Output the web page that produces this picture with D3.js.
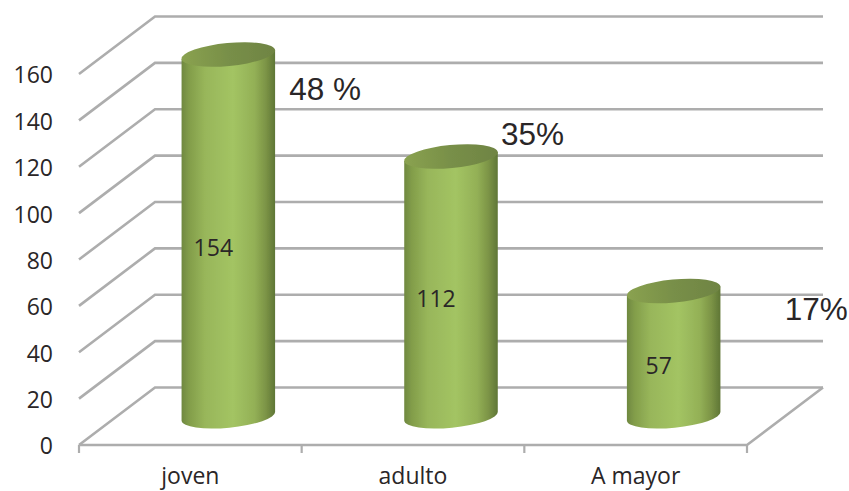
<!DOCTYPE html>
<html><head><meta charset="utf-8">
<script src="https://cdn.jsdelivr.net/npm/d3@7/dist/d3.min.js"></script>
<style>html,body{margin:0;padding:0;background:#fff}svg{display:block}</style>
</head><body><svg id="c" width="849" height="491"></svg>
<script>
const categories = ["joven","adulto","A mayor"];
const dataLabels = [154,112,57];
const barHeights = [156,112,54];
const percents = ["48 %","35%","17%"];
const yTicks = [0,20,40,60,80,100,120,140,160];

const svg = d3.select("#c");
const depthX = 76, depthY = -57.5;
const y = d3.scaleLinear().domain([0,160]).range([445,74]);
const x = d3.scaleBand().domain(categories).range([79,747]).paddingInner(0.578).paddingOuter(0.289);
const pctDx = [61,50,111], pctDy = [45,-12,29];
const grid = "#adadad", ink = "#2a2627", sans = "'Open Sans',sans-serif", fs = 23;

const defs = svg.append("defs");
const g1 = defs.append("linearGradient").attr("id","body");
[[0,"#6f8840"],[.08,"#829d4a"],[.25,"#98b65a"],[.55,"#a3c463"],[.78,"#93b056"],[.9,"#7c9446"],[1,"#5f7636"]]
  .forEach(s=>g1.append("stop").attr("offset",s[0]).attr("stop-color",s[1]));
const g2 = defs.append("linearGradient").attr("id","cap");
[[0,"#8aa250"],[.5,"#788f48"],[1,"#6f8443"]]
  .forEach(s=>g2.append("stop").attr("offset",s[0]).attr("stop-color",s[1]));
defs.append("filter").attr("id","soft").append("feGaussianBlur").attr("stdDeviation",0.6);

// walls and floor
const wall = svg.append("g").attr("fill","none").attr("stroke",grid).attr("stroke-width",2.6).attr("filter","url(#soft)");
wall.selectAll("path.g").data(yTicks).join("path").attr("class","g")
  .attr("d",d=>`M${x.range()[0]},${y(d)}L${x.range()[0]+depthX},${y(d)+depthY}L${x.range()[1]+depthX},${y(d)+depthY}`);
wall.append("path").attr("d",`M${x.range()[0]},${y(0)}L${x.range()[1]},${y(0)}L${x.range()[1]+depthX},${y(0)+depthY}`);

// axes
const tickX = [0,1,2,3].map(i=>x.range()[0]+i*x.step());
const yAxis = d3.axisLeft(y).tickValues(yTicks).tickSize(8).tickPadding(18).tickSizeOuter(0);
const ya = svg.append("g").attr("transform",`translate(${x.range()[0]},0)`).call(yAxis);
ya.select(".domain").attr("stroke",grid).attr("stroke-width",2.6).attr("filter","url(#soft)");
ya.selectAll("line").attr("stroke",grid).attr("stroke-width",2.2).attr("filter","url(#soft)");
ya.selectAll("text").attr("font-family",sans).attr("font-size",fs).attr("fill",ink).attr("dy","0.39em");

svg.append("g").attr("stroke",grid).attr("stroke-width",2.2).attr("filter","url(#soft)")
  .selectAll("line").data(tickX).join("line")
  .attr("x1",d=>d).attr("x2",d=>d).attr("y1",y(0)).attr("y2",y(0)+8);
svg.append("g").selectAll("text").data(categories).join("text")
  .attr("x",d=>x(d)+x.bandwidth()/2).attr("y",484).attr("text-anchor","middle")
  .attr("font-family",sans).attr("font-size",fs).attr("fill",ink).text(d=>d);

// cylinders
const rx = x.bandwidth()/2, ry = 11.5, rot = -5.5;
const c = Math.cos(rot*Math.PI/180), s = Math.sin(rot*Math.PI/180);
const bars = svg.append("g").selectAll("g").data(categories).join("g").attr("filter","url(#soft)");
const cx = d=>x(d)+x.bandwidth()/2+depthX/2;
const base = y(0)+depthY/2;
const topY = (d,i)=>y(barHeights[i])+depthY/2;
bars.append("path").attr("fill","url(#body)").attr("d",(d,i)=>{
  const X=cx(d),T=topY(d,i);
  return `M${X-rx*c},${T-rx*s}L${X-rx*c},${base-rx*s}A${rx},${ry} ${rot} 0 0 ${X+rx*c},${base+rx*s}L${X+rx*c},${T+rx*s}Z`;
});
bars.append("ellipse").attr("fill","url(#cap)").attr("rx",rx).attr("ry",ry)
  .attr("transform",(d,i)=>`translate(${cx(d)},${topY(d,i)}) rotate(${rot})`);

// value labels
svg.append("g").selectAll("text").data(categories).join("text")
  .attr("x",d=>cx(d)-15).attr("y",(d,i)=>(topY(d,i)+base)/2+20.5).attr("text-anchor","middle")
  .attr("font-family",sans).attr("font-size",fs).attr("fill",ink).text((d,i)=>dataLabels[i]);

// percent labels
svg.append("g").selectAll("text").data(categories).join("text")
  .attr("x",(d,i)=>cx(d)+pctDx[i]).attr("y",(d,i)=>topY(d,i)+pctDy[i])
  .attr("font-family","'Liberation Sans',Arial,sans-serif").attr("font-size",31.5).attr("fill",ink).text((d,i)=>percents[i]);
</script></body></html>
